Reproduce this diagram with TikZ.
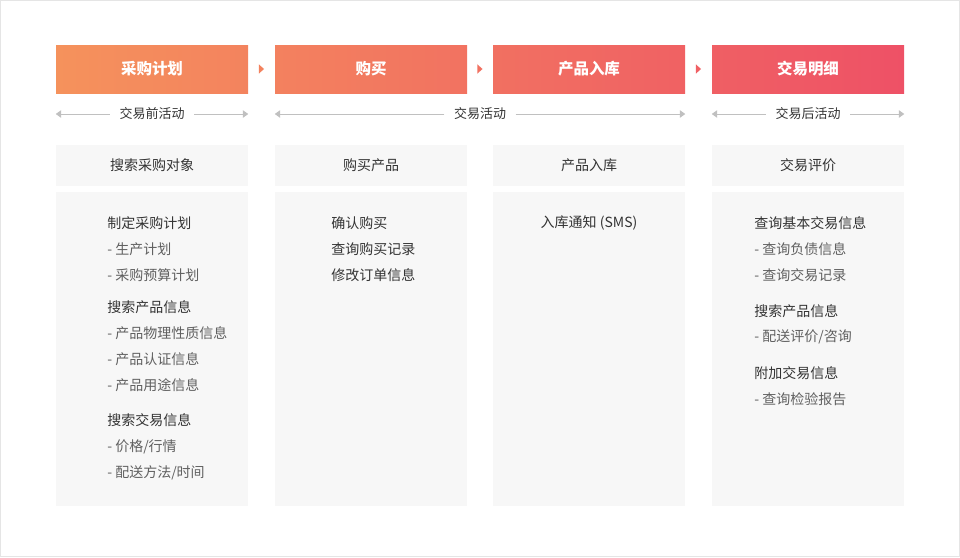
\documentclass[tikz,border=0pt]{standalone}
\usepackage{fontspec}
\setmainfont{Noto Sans CJK SC}
\usepackage{tikz}
\usetikzlibrary{arrows.meta, positioning}
\tikzset{>={Triangle[length=4pt,width=5.5pt]}}

\definecolor{hdrA}{RGB}{245,146,92}
\definecolor{hdrB}{RGB}{238,81,102}
\definecolor{boxgray}{RGB}{247,247,247}
\definecolor{linegray}{RGB}{192,192,192}
\definecolor{txtdark}{RGB}{51,51,51}
\definecolor{txtgray}{RGB}{96,96,96}

% small marker between two header boxes
\newcommand{\steptri}[2]{%
  \fill[#2] ([shift={(-1.9pt,3.4pt)}]#1) -- ([shift={(1.9pt,0pt)}]#1)
            -- ([shift={(-1.9pt,-3.4pt)}]#1) -- cycle;}

\begin{document}
\begin{tikzpicture}[x=0.75pt, y=-0.75pt, font=\fontsize{10.5pt}{12pt}\selectfont,
    header/.style={minimum width=144pt, minimum height=36pt, inner sep=0pt,
      text=white, font=\fontsize{11.6pt}{13pt}\selectfont\bfseries},
    span/.style={inner xsep=7pt, inner ysep=0pt, text=txtdark,
      font=\fontsize{9.75pt}{11pt}\selectfont},
    spanline/.style={draw=linegray, line width=0.75pt, ->},
    subhead/.style={fill=boxgray, minimum width=144pt, minimum height=30.75pt,
      inner sep=0pt, text=txtdark},
    contentbox/.style={fill=boxgray, minimum width=144pt, minimum height=235.5pt,
      inner sep=0pt},
    topic/.style={anchor=west, inner sep=0pt, text=txtdark},
    item/.style={anchor=west, inner sep=0pt, text=txtgray}]
  \useasboundingbox (0,0) rectangle (960,557);
  \draw[black!10, line width=0.75pt] (0.5,0.5) rectangle (959.5,556.5);

  % headers
  \node[header, left color=hdrA, right color=hdrB!23!hdrA] (h1) at (152,69) {采购计划};
  \node[header, left color=hdrB!26!hdrA, right color=hdrB!49!hdrA] (h2) at (371,69) {购买};
  \node[header, left color=hdrB!52!hdrA, right color=hdrB!75!hdrA] (h3) at (589,69) {产品入库};
  \node[header, left color=hdrB!78!hdrA, right color=hdrB] (h4) at (808,69) {交易明细};

  \path (h1) -- coordinate (m1) (h2);
  \path (h2) -- coordinate (m2) (h3);
  \path (h3) -- coordinate (m3) (h4);
  \steptri{m1}{hdrB!24!hdrA}
  \steptri{m2}{hdrB!50!hdrA}
  \steptri{m3}{hdrB!77!hdrA}

  % activity spans
  \node[span] (t1) at (152,114) {交易前活动};
  \node[span] (t2) at (480,114) {交易活动};
  \node[span] (t3) at (808,114) {交易后活动};
  \draw[spanline] (t1.west) -- (h1.west |- t1);
  \draw[spanline] (t1.east) -- (h1.east |- t1);
  \draw[spanline] (t2.west) -- (h2.west |- t2);
  \draw[spanline] (t2.east) -- (h3.east |- t2);
  \draw[spanline] (t3.west) -- (h4.west |- t3);
  \draw[spanline] (t3.east) -- (h4.east |- t3);

  % sub headers
  \node[subhead] (s1) at (152,165.5) {搜索采购对象};
  \node[subhead] (s2) at (371,165.5) {购买产品};
  \node[subhead] (s3) at (589,165.5) {产品入库};
  \node[subhead] (s4) at (808,165.5) {交易评价};

  % content boxes
  \node[contentbox] (b1) at (152,349) {};
  \node[contentbox] (b2) at (371,349) {};
  \node[contentbox] (b3) at (589,349) {};
  \node[contentbox] (b4) at (808,349) {};

  % column 1
  \node[topic] (c11) at (107,222.7) {制定采购计划};
  \node[item]  (c12) at (107,249.3) {- 生产计划};
  \node[item]  (c13) at (107,275) {- 采购预算计划};
  \node[topic] (c14) at (107,306.7) {搜索产品信息};
  \node[item]  (c15) at (107,333.3) {- 产品物理性质信息};
  \node[item]  (c16) at (107,359.3) {- 产品认证信息};
  \node[item]  (c17) at (107,385) {- 产品用途信息};
  \node[topic] (c18) at (107,420) {搜索交易信息};
  \node[item]  (c19) at (107,446.7) {- 价格/行情};
  \node[item]  (c110) at (107,472.7) {- 配送方法/时间};

  % column 2
  \node[topic] (c21) at (331,222.7) {确认购买};
  \node[topic] (c22) at (331,249.3) {查询购买记录};
  \node[topic] (c23) at (331,275) {修改订单信息};

  % column 3
  \node[inner sep=0pt, text=txtdark] (c31) at (589,222.7) {入库通知 (SMS)};

  % column 4
  \node[topic] (c41) at (754,222.7) {查询基本交易信息};
  \node[item]  (c42) at (754,249.3) {- 查询负债信息};
  \node[item]  (c43) at (754,275) {- 查询交易记录};
  \node[topic] (c44) at (754,310.7) {搜索产品信息};
  \node[item]  (c45) at (754,336.7) {- 配送评价/咨询};
  \node[topic] (c46) at (754,372.7) {附加交易信息};
  \node[item]  (c47) at (754,399.3) {- 查询检验报告};
\end{tikzpicture}
\end{document}
